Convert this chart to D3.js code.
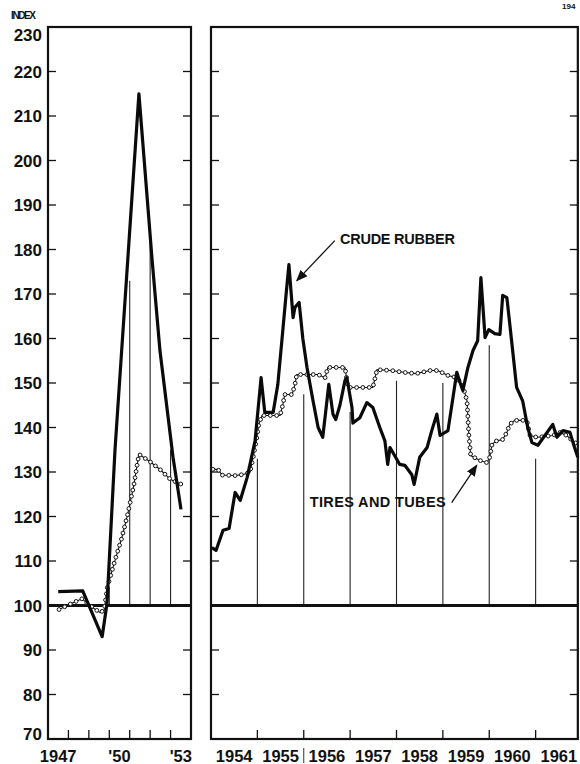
<!DOCTYPE html>
<html>
<head>
<meta charset="utf-8">
<script src="https://cdn.jsdelivr.net/npm/d3@7"></script>
<style>
  body { margin: 0; background: #fff; }
  svg { display: block; }
  text { font-family: "Liberation Sans", Arial, sans-serif; font-weight: bold; fill: #111; }
</style>
</head>
<body>
<div id="chart"></div>
<script>
// Index values, [year, index]
const crudeEarly = [[1947.5,103.1],[1948.7,103.3],[1949.65,93],[1949.89,100.5],[1950.28,135],[1951.45,215],
  [1952.09,178],[1952.48,157.3],[1953.12,133.3],[1953.51,121.6]];
const tiresEarly = [[1947.54,99.1],[1948.17,100.5],[1948.66,101.5],[1949.2,99.5],[1949.55,98.4],[1949.75,99],
  [1949.9,104],[1950.3,110.5],[1950.6,115],[1950.9,120.5],[1951.2,127],[1951.45,134],[1952.0,132.3],
  [1952.5,130.5],[1953.0,128.3],[1953.55,127.2]];

const crudeLate = [[1954.02,113],[1954.11,112.4],[1954.26,116.9],[1954.39,117.3],[1954.52,125.4],[1954.63,123.6],
  [1954.78,128.8],[1954.95,137],[1955.08,151.2],[1955.16,143.4],[1955.34,143.4],[1955.44,149.6],[1955.55,162],
  [1955.62,170],[1955.68,176.6],[1955.77,164.7],[1955.81,167],[1955.9,168.1],[1955.98,160],[1956.07,153.5],
  [1956.2,146],[1956.31,140],[1956.41,137.8],[1956.5,146],[1956.54,149.7],[1956.63,143],[1956.69,141.8],
  [1956.78,145],[1956.89,150.6],[1956.93,151.2],[1957.04,144.5],[1957.06,141],[1957.21,142.2],[1957.36,145.6],
  [1957.49,144.5],[1957.64,140],[1957.75,137],[1957.81,131.7],[1957.86,135.5],[1958.07,131.7],[1958.18,131.5],
  [1958.33,129.4],[1958.38,127.2],[1958.5,133.3],[1958.66,135.5],[1958.76,139.3],[1958.87,143],[1958.94,138.2],
  [1959.11,139.3],[1959.3,152.4],[1959.37,150.1],[1959.43,148.3],[1959.54,153.5],[1959.65,157.3],[1959.75,159.5],
  [1959.82,173.7],[1959.91,160.2],[1959.99,162],[1960.12,161.1],[1960.23,160.9],[1960.29,169.7],[1960.38,169.2],
  [1960.49,158.7],[1960.59,149],[1960.72,146],[1960.83,140],[1960.92,136.6],[1961.05,136],[1961.2,138.2],
  [1961.37,140.7],[1961.46,137.8],[1961.59,139.3],[1961.74,138.9],[1961.84,135.5],[1961.91,133.3]];
const tiresLate = [[1954.04,130.6],[1954.15,130.6],[1954.24,129.3],[1954.52,129.2],[1954.67,129.4],[1954.84,129.9],
  [1954.91,133.3],[1954.99,137.8],[1955.03,140.7],[1955.1,142.7],[1955.49,142.7],[1955.55,145.2],[1955.59,147.4],
  [1955.75,147.4],[1955.81,149.7],[1955.85,151.9],[1956.31,151.9],[1956.46,151.2],[1956.52,153.5],[1956.89,153.5],
  [1956.95,149],[1957.49,149],[1957.58,153],[1957.9,152.8],[1958.14,152.4],[1958.42,152.1],[1958.72,152.8],
  [1958.89,152.8],[1959.11,151.7],[1959.3,151.2],[1959.43,149.4],[1959.52,146],[1959.56,138.4],[1959.6,133.7],
  [1959.8,132.6],[1959.95,132.1],[1960.01,133.3],[1960.06,136.2],[1960.16,137],[1960.29,137.3],[1960.38,138.9],
  [1960.44,140.7],[1960.55,141.6],[1960.81,141.6],[1960.88,138.2],[1961.03,137.8],[1961.37,138.2],[1961.52,138.9],
  [1961.67,138.2],[1961.8,137],[1961.91,136.2]];

// thin year lines rising from the 100 line
const earlyDropYears = [1950, 1951, 1952, 1953];
const earlyDropTops = [104, 173, 183, 135];
const lateDropYears = [1955, 1956, 1957, 1958, 1959, 1960, 1961];
const lateDropTops = [133, 147.5, 143.5, 150.5, 150, 158.5, 133];

const yTicks = d3.range(70, 231, 10);
const earlyLabels = ["1947", "", "", "'50", "", "", "'53"];
const lateLabels = ["1954", "1955", "1956", "1957", "1958", "1959", "1960", "1961"];

const W = 580, H = 764;
const plotTop = 27, plotBottom = 739;
const y = d3.scaleLinear().domain([70, 230]).range([plotBottom, plotTop]);

const svg = d3.select("#chart").append("svg")
  .attr("width", W).attr("height", H);

const xEarly = d3.scaleLinear().domain([1947, 1954]).range([48, 191]);
const xLate = d3.scaleLinear().domain([1954, 1962]).range([211, 582]);

function drawPanel(x, x0, x1, crude, tires, dropYears, dropTops, labels, firstYear) {
  const g = svg.append("g");
  const left = x(x0), right = x(x1);

  // drop lines
  g.selectAll(".drop").data(dropYears).enter().append("line")
    .attr("x1", d => x(d)).attr("x2", d => x(d))
    .attr("y1", y(100)).attr("y2", (d, i) => y(dropTops[i]))
    .attr("stroke", "#222").attr("stroke-width", 1.1);

  // y ticks, both sides, pointing inward
  yTicks.slice(1, -1).forEach(v => {
    g.append("line").attr("x1", left).attr("x2", left + 8)
      .attr("y1", y(v)).attr("y2", y(v)).attr("stroke", "#111").attr("stroke-width", 1.3);
    g.append("line").attr("x1", right - 8).attr("x2", right)
      .attr("y1", y(v)).attr("y2", y(v)).attr("stroke", "#111").attr("stroke-width", 1.3);
  });

  // x ticks at year boundaries
  const yrs = d3.range(Math.ceil(x0) + 1, x1);
  g.selectAll(".xt").data(yrs).enter().append("line")
    .attr("x1", d => x(d)).attr("x2", d => x(d))
    .attr("y1", plotBottom).attr("y2", plotBottom - 9)
    .attr("stroke", "#111").attr("stroke-width", 1.3);

  // 100 base line
  g.append("line").attr("x1", left).attr("x2", right)
    .attr("y1", y(100)).attr("y2", y(100))
    .attr("stroke", "#111").attr("stroke-width", 3);

  const line = d3.line().x(d => x(d[0])).y(d => y(d[1]));

  // tires and tubes: thin line with open beads along it
  const tp = g.append("path").datum(tires)
    .attr("d", line).attr("fill", "none")
    .attr("stroke", "#111").attr("stroke-width", 1.1);
  const node = tp.node();
  const len = node.getTotalLength();
  const beads = [];
  for (let s = 0; s <= len; s += 6.3) beads.push(node.getPointAtLength(s));
  g.selectAll(".bead").data(beads).enter().append("circle")
    .attr("cx", d => d.x).attr("cy", d => d.y).attr("r", 1.9)
    .attr("fill", "#fff").attr("stroke", "#111").attr("stroke-width", 1);

  // crude rubber: heavy line
  g.append("path").datum(crude)
    .attr("d", line).attr("fill", "none")
    .attr("stroke", "#0a0a0a").attr("stroke-width", 3.2)
    .attr("stroke-linejoin", "round");

  // frame
  g.append("rect").attr("x", left).attr("y", plotTop)
    .attr("width", right - left).attr("height", plotBottom - plotTop)
    .attr("fill", "none").attr("stroke", "#111").attr("stroke-width", 2.2);

  // year labels
  g.selectAll(".xl").data(labels).enter().append("text")
    .attr("x", (d, i) => x(firstYear + i + 0.5))
    .attr("y", 762)
    .attr("text-anchor", "middle")
    .attr("font-size", 16.5)
    .text(d => d);
}

drawPanel(xEarly, 1947, 1954, crudeEarly, tiresEarly, earlyDropYears, earlyDropTops, earlyLabels, 1947);
drawPanel(xLate, 1954, 1961.91, crudeLate, tiresLate, lateDropYears, lateDropTops, lateLabels, 1954);

// small divider between 1955 and 1956 labels
svg.append("line").attr("x1", xLate(1956)).attr("x2", xLate(1956))
  .attr("y1", 748).attr("y2", 763).attr("stroke", "#333").attr("stroke-width", 1);

// y axis labels
svg.selectAll(".yl").data(yTicks).enter().append("text")
  .attr("x", 42)
  .attr("y", d => Math.min(Math.max(y(d), 35), 734))
  .attr("dy", "0.36em")
  .attr("text-anchor", "end")
  .attr("font-size", 17)
  .text(d => d);

svg.append("text").attr("x", 11).attr("y", 19)
  .attr("font-size", 10).attr("textLength", 25).text("INDEX");

svg.append("text").attr("x", 562).attr("y", 9)
  .attr("font-size", 8).attr("fill", "#333").text("194");

// annotations
svg.append("defs").append("marker")
  .attr("id", "arrow").attr("viewBox", "0 0 10 10")
  .attr("refX", 9).attr("refY", 5)
  .attr("markerWidth", 9).attr("markerHeight", 9)
  .attr("orient", "auto")
  .append("path").attr("d", "M0,1 L10,5 L0,9 Z").attr("fill", "#111");

svg.append("line")
  .attr("x1", xLate(1956.67)).attr("y1", y(182))
  .attr("x2", xLate(1955.85)).attr("y2", y(173))
  .attr("stroke", "#111").attr("stroke-width", 1.3)
  .attr("marker-end", "url(#arrow)");
svg.append("text").attr("x", xLate(1956.78)).attr("y", y(182.5))
  .attr("dy", "0.36em").attr("font-size", 14.5).attr("textLength", 115)
  .text("CRUDE RUBBER");

svg.append("line")
  .attr("x1", xLate(1959.19)).attr("y1", y(123.1))
  .attr("x2", xLate(1959.73)).attr("y2", y(131.5))
  .attr("stroke", "#111").attr("stroke-width", 1.3)
  .attr("marker-end", "url(#arrow)");
svg.append("text").attr("x", xLate(1959.06)).attr("y", y(123.4))
  .attr("dy", "0.36em").attr("text-anchor", "end")
  .attr("font-size", 14.5).attr("textLength", 136)
  .text("TIRES AND TUBES");
</script>
</body>
</html>
